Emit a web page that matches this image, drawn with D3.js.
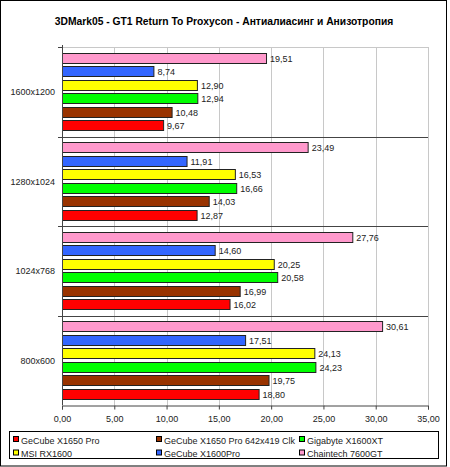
<!DOCTYPE html>
<html><head><meta charset="utf-8">
<script src="https://cdn.jsdelivr.net/npm/d3@7"></script>
<style>body{margin:0;background:#fff}svg{display:block;font-family:"Liberation Sans",Arial,sans-serif}</style>
</head><body><svg id="c" width="450" height="467"></svg>
<script>
const title = "3DMark05 - GT1 Return To Proxycon - Антиалиасинг и Анизотропия";
const categories = ["1600x1200", "1280x1024", "1024x768", "800x600"];
const seriesNames = ["GeCube X1650 Pro", "GeCube X1650 Pro 642x419 Clk", "Gigabyte X1600XT", "MSI RX1600", "GeCube X1600Pro", "Chaintech 7600GT"];
const seriesColors = ["#FF0000", "#993300", "#00FF00", "#FFFF00", "#3366FF", "#FF99CC"];
const gecubeX1650 = [9.67, 12.87, 16.02, 18.80];
const gecubeX1650Clk = [10.48, 14.03, 16.99, 19.75];
const gigabyteX1600XT = [12.94, 16.66, 20.58, 24.23];
const msiRX1600 = [12.90, 16.53, 20.25, 24.13];
const gecubeX1600Pro = [8.74, 11.91, 14.60, 17.51];
const chaintech7600GT = [19.51, 23.49, 27.76, 30.61];
const seriesValues = [gecubeX1650, gecubeX1650Clk, gigabyteX1600XT, msiRX1600, gecubeX1600Pro, chaintech7600GT];
const xTicks = [0, 5, 10, 15, 20, 25, 30, 35];

const svg = d3.select("#c");
const fmt = v => d3.format(".2f")(v).replace(".", ",");
const L = 62, R = 428, T = 47, B = 405;
const FS = 9;

svg.append("rect").attr("x", 0.5).attr("y", 0.5).attr("width", 446).attr("height", 465.5)
  .attr("fill", "#fff").attr("stroke", "#000");

svg.append("text").attr("x", 224).attr("y", 25).attr("text-anchor", "middle")
  .attr("font-size", 10.3).attr("font-weight", "bold").attr("fill", "#000").text(title);

const x = d3.scaleLinear().domain([0, 35]).range([L, R]);
const y0 = d3.scaleBand().domain(categories).range([T, B]);
const order = seriesNames.map((d, i) => i).reverse();
const y1 = d3.scaleBand().domain(order).range([0, y0.bandwidth()]).paddingInner(0.22).paddingOuter(0.44);

// gridlines
svg.append("g").selectAll("line").data(xTicks.slice(1)).join("line")
  .attr("x1", d => Math.round(x(d)) + 0.5).attr("x2", d => Math.round(x(d)) + 0.5)
  .attr("y1", T).attr("y2", B).attr("stroke", "#c8c8c8");
svg.append("line").attr("x1", L).attr("x2", R).attr("y1", T + 0.5).attr("y2", T + 0.5).attr("stroke", "#c8c8c8");

// category separators
svg.append("g").selectAll("line").data(categories.slice(1)).join("line")
  .attr("x1", L - 4).attr("x2", R).attr("y1", d => Math.round(y0(d)) + 0.5).attr("y2", d => Math.round(y0(d)) + 0.5)
  .attr("stroke", "#444");

// bars
const groups = svg.append("g").selectAll("g").data(categories).join("g")
  .attr("transform", d => `translate(0,${y0(d)})`);
groups.each(function(cat, ci) {
  const g = d3.select(this);
  order.forEach(si => {
    const v = seriesValues[si][ci];
    const yy = Math.round(y1(si) + y0(cat)) - y0(cat);
    g.append("rect").attr("x", L + 0.5).attr("y", yy + 0.5)
      .attr("width", x(v) - L).attr("height", Math.round(y1.bandwidth()))
      .attr("fill", seriesColors[si]).attr("stroke", "#222").attr("stroke-width", 1);
    g.append("text").attr("x", x(v) + 4).attr("y", yy + y1.bandwidth() / 2 + 4)
      .attr("font-size", FS).attr("fill", "#222").text(fmt(v));
  });
});

// category labels
svg.append("g").selectAll("text").data(categories).join("text")
  .attr("x", 55).attr("y", d => y0(d) + y0.bandwidth() / 2 + 3.5)
  .attr("text-anchor", "end").attr("font-size", FS).attr("fill", "#222").text(d => d);

// axes
svg.append("line").attr("x1", L + 0.5).attr("x2", L + 0.5).attr("y1", T - 2).attr("y2", B).attr("stroke", "#444");
svg.append("line").attr("x1", L - 4).attr("x2", L).attr("y1", T + 0.5).attr("y2", T + 0.5).attr("stroke", "#444");
const xAxis = svg.append("g").attr("transform", `translate(0,${B + 0.5})`)
  .call(d3.axisBottom(x).tickValues(xTicks).tickSize(4).tickFormat(fmt));
xAxis.select(".domain").attr("stroke", "#444");
xAxis.selectAll(".tick line").attr("stroke", "#444");
xAxis.selectAll("text").attr("font-size", FS).attr("fill", "#222").attr("y", 8).attr("dy", "0.95em")
  .attr("font-family", "Liberation Sans, Arial, sans-serif");

// legend
svg.append("rect").attr("x", 9.5).attr("y", 431.5).attr("width", 429).attr("height", 27)
  .attr("fill", "#fff").attr("stroke", "#000");
const colX = [13, 156, 299];
const rowY = [440, 453.5];
seriesNames.forEach((n, i) => {
  const cx = colX[i % 3], cy = rowY[Math.floor(i / 3)];
  svg.append("rect").attr("x", cx + 0.5).attr("y", cy - 3.5).attr("width", 5).attr("height", 5)
    .attr("fill", seriesColors[i]).attr("stroke", "#000");
  svg.append("text").attr("x", cx + 8).attr("y", cy + 3.5).attr("font-size", FS).attr("fill", "#222").text(n);
});
</script></body></html>
